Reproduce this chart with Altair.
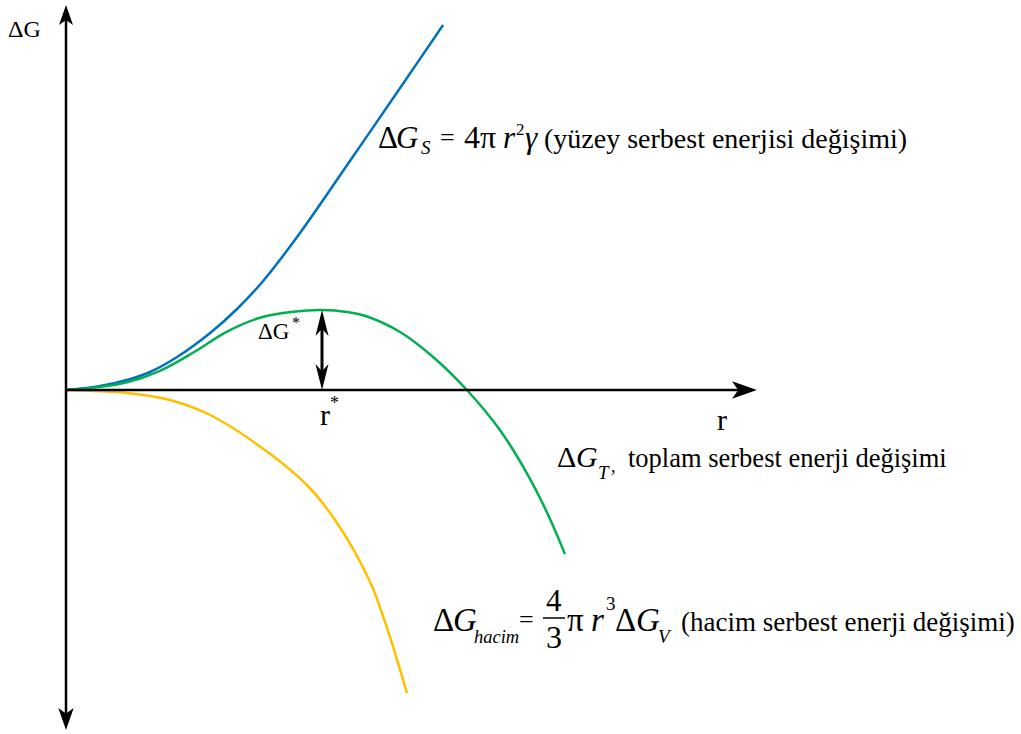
import altair as alt
import pandas as pd

# r in units of the critical radius r*, ΔG in units of the barrier ΔG*
r_surface = [0.0, 0.133, 0.238, 0.328, 0.434, 0.563, 0.668, 0.770, 0.914, 1.109, 1.305, 1.473]
g_surface = [0.0, 0.050, 0.125, 0.225, 0.4125, 0.7125, 1.0125, 1.3625, 1.9625, 2.8625, 3.775, 4.5625]

r_total = [0.0, 0.133, 0.238, 0.367, 0.496, 0.629, 0.758, 0.887, 1.0, 1.098,
           1.176, 1.305, 1.434, 1.566, 1.695, 1.801, 1.879, 1.949]
g_total = [0.0, 0.039, 0.096, 0.240, 0.466, 0.730, 0.904, 0.979, 1.0, 0.975,
           0.919, 0.725, 0.4125, 0.0, -0.500, -1.044, -1.531, -2.050]

r_volume = [0.0, 0.238, 0.406, 0.563, 0.758, 0.941, 1.059, 1.188, 1.234, 1.277, 1.332]
g_volume = [0.0, -0.0375, -0.125, -0.3125, -0.706, -1.1875, -1.6625, -2.400, -2.7875, -3.200, -3.7875]

series_names = ["yüzey", "toplam", "hacim"]
series_colors = ["#0070C0", "#00B050", "#FFC000"]

frames = []
for name, rs, gs in [("hacim", r_volume, g_volume),
                     ("yüzey", r_surface, g_surface),
                     ("toplam", r_total, g_total)]:
    frames.append(pd.DataFrame({"r": rs, "g": gs, "seri": name}))
curves = pd.concat(frames, ignore_index=True)
one = pd.DataFrame({"k": [0]})

W, H = 1021, 734
X_DOM = [-0.2578125, 3.73046875]
Y_DOM = [-4.3, 4.875]
xs = alt.Scale(domain=X_DOM, nice=False, zero=False)
ys = alt.Scale(domain=Y_DOM, nice=False, zero=False)

# axis extents (data units)
G_TOP, G_BOTTOM, R_RIGHT = 4.8125, -4.25, 2.699

SERIF = "Liberation Serif, Times New Roman, serif"
HEAD = "M0,-1L0.7,1L0,0.5L-0.7,1Z"
HEAD_SMALL = "M0,-1L0.5,1L0,0.45L-0.5,1Z"

lines = alt.Chart(curves).mark_line(strokeWidth=2.5, interpolate="catmull-rom").encode(
    x=alt.X("r:Q", scale=xs, axis=None),
    y=alt.Y("g:Q", scale=ys, axis=None),
    color=alt.Color("seri:N", scale=alt.Scale(domain=series_names, range=series_colors), legend=None),
    detail="seri:N",
)


def rule(x, y, x2=None, y2=None, width=2.5):
    enc = dict(x=alt.datum(x, scale=xs), y=alt.datum(y, scale=ys))
    if x2 is not None:
        enc["x2"] = alt.datum(x2)
    if y2 is not None:
        enc["y2"] = alt.datum(y2)
    return alt.Chart(one).mark_rule(color="black", strokeWidth=width).encode(**enc)


def head(x, y, angle, size, shape, dx=0, dy=0):
    return alt.Chart(one).mark_point(
        shape=shape, filled=True, color="black", opacity=1, size=size,
        angle=angle, xOffset=dx, yOffset=dy, strokeWidth=0,
    ).encode(x=alt.datum(x, scale=xs), y=alt.datum(y, scale=ys))


def label(text, px, py, size, italic=False):
    kw = dict(align="left", baseline="alphabetic", font=SERIF, fontSize=size, color="black")
    if italic:
        kw["fontStyle"] = "italic"
    return alt.Chart(one).mark_text(**kw).encode(
        x=alt.value(px), y=alt.value(py), text=alt.value(text))


axes = [
    rule(0, G_BOTTOM + 0.15, y2=G_TOP - 0.15),
    rule(0, 0, x2=R_RIGHT - 0.05),
    head(0, G_TOP, 0, 400, HEAD, dy=10),
    head(0, G_BOTTOM, 180, 484, HEAD, dy=-11),
    head(R_RIGHT, 0, 90, 625, HEAD, dx=-12.5),
    # ΔG* barrier arrow at r = r*
    rule(1.0, 0.12, y2=0.88, width=3),
    head(1.0, 1.0, 0, 676, HEAD_SMALL, dy=13),
    head(1.0, 0.0, 180, 676, HEAD_SMALL, dy=-13),
]

texts = [
    label("ΔG", 8, 37, 24),
    label("r", 717, 430, 30),
    label("r", 320, 425, 30),
    label("*", 330, 409, 18),
    label("ΔG", 258, 339, 23),
    label("*", 292, 328, 16),
    # ΔG_S = 4π r² γ
    label("Δ", 378, 148, 31),
    label("G", 396, 148, 31, True),
    label("S", 421, 154, 19, True),
    label("=", 440, 146, 26),
    label("4π", 464, 148, 32),
    label("r", 503, 148, 31, True),
    label("2", 516, 135, 17),
    label("γ", 525, 148, 31, True),
    label("(yüzey serbest enerjisi değişimi)", 544, 148, 28),
    # ΔG_T
    label("Δ", 557, 467, 30),
    label("G", 576, 467, 30, True),
    label("T", 598, 479, 19, True),
    label(",", 611, 472, 18),
    label("toplam serbest enerji değişimi", 628, 467, 26.5),
    # ΔG_hacim = 4/3 π r³ ΔG_V
    label("Δ", 433, 631, 33),
    label("G", 453, 631, 33, True),
    label("hacim", 474, 643, 18.5, True),
    label("=", 519, 628, 26),
    label("4", 546, 611, 31),
    label("3", 546, 648, 32),
    label("π", 567, 631, 33),
    label("r", 591, 631, 33, True),
    label("3", 606, 610, 19),
    label("Δ", 615, 631, 33),
    label("G", 636, 631, 33, True),
    label("V", 658, 643, 19, True),
    label("(hacim serbest enerji değişimi)", 681, 631, 27),
]

frac_bar = alt.Chart(one).mark_rule(color="black", strokeWidth=1.5).encode(
    x=alt.value(543), x2=alt.value(565), y=alt.value(618))

chart = alt.layer(lines, *axes, frac_bar, *texts).properties(
    width=W, height=H, padding=0,
    autosize=alt.AutoSizeParams(type="none"),
    background="white",
).configure_view(stroke=None)

chart.save("out.html", embed_options={"renderer": "svg", "actions": False})
